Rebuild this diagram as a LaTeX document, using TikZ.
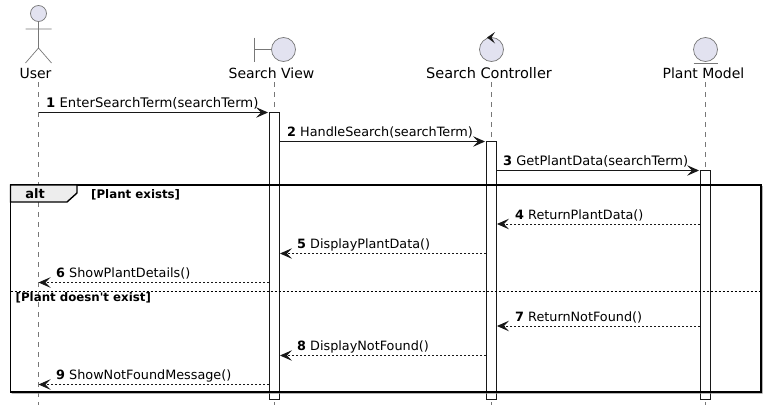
\documentclass[tikz,border=0pt]{standalone}
\usepackage{fontspec}
\setmainfont{DejaVu Sans}
\usetikzlibrary{arrows.meta}
\definecolor{pfill}{HTML}{E2E2F0}
\definecolor{pline}{HTML}{181818}
\definecolor{lgray}{HTML}{777777}
\tikzset{
  x=1pt,y=-1pt,
  lifeline/.style={draw=lgray,line width=.7pt,dash pattern=on 5pt off 5pt},
  icon/.style={draw=lgray,line width=.7pt},
  iconfill/.style={icon,fill=pfill},
  head/.style={font=\fontsize{14}{16}\selectfont,text=black,inner sep=0pt,anchor=center},
  actbox/.style={draw=pline,line width=.9pt,fill=white,minimum width=10pt,inner sep=0pt},
  msg/.style={draw=pline,line width=.9pt,-{Stealth[length=12pt,width=10.5pt,inset=5pt]}},
  ret/.style={msg,dash pattern=on 2pt off 2pt},
  msgtext/.style={font=\fontsize{12.8}{15}\selectfont,inner sep=0pt,anchor=base west},
  guard/.style={font=\fontsize{11.8}{13}\selectfont\bfseries,inner sep=0pt,anchor=base west},
}
\begin{document}
\begin{tikzpicture}
\useasboundingbox (0,0) rectangle (766,415);
% participants
\node[head] (user) at (35.5,73) {User};
\node[head] (view) at (271.5,73) {Search View};
\node[head,font=\fontsize{14.5}{16}\selectfont] (ctrl) at (489,73) {Search Controller};
\node[head] (model) at (703.5,73) {Plant Model};
% lifelines
\coordinate (lu) at (38.5,82); \coordinate (lue) at (38.5,405);
\coordinate (lv) at (274.5,82); \coordinate (lve) at (274.5,405);
\coordinate (lc) at (491.5,82); \coordinate (lce) at (491.5,405);
\coordinate (lm) at (705.5,82); \coordinate (lme) at (705.5,405);
\draw[lifeline] (lu) -- (lue);
\draw[lifeline] (lv) -- (lve);
\draw[lifeline] (lc) -- (lce);
\draw[lifeline] (lm) -- (lme);
% actor
\draw[iconfill] (38.5,13.5) circle (8);
\draw[icon] (38.5,21.5) -- (38.5,48) (25.5,29) -- (51.5,29) (25.5,63) -- (38.5,48) -- (51.5,63);
% boundary
\draw[iconfill] (283.5,49.5) circle (12);
\draw[icon] (254.5,37.5) -- (254.5,61.5) (254.5,49.5) -- (271.5,49.5);
% control
\draw[iconfill] (491.5,49.5) circle (12);
\fill[pline] (487,37.5) -- (495,32) -- (491.5,37.5) -- (495,43.5) -- cycle;
% entity
\draw[iconfill] (705.5,49.5) circle (12);
\draw[icon] (693.5,63) -- (717.5,63);
% activations
\node[actbox,minimum height=287pt] (av) at (274.5,255.5) {};
\node[actbox,minimum height=258pt] (ac) at (491.5,270) {};
\node[actbox,minimum height=229pt] (am) at (705.5,284.5) {};
% frame
\path[fill=black!45] (11.5,391.5) rectangle (762.5,393.5) (760.5,186) rectangle (762.5,393.5);
\draw[line width=1.4pt,draw=black] (10.5,185) rectangle (761,392);
\draw[line width=1.4pt,draw=black,fill=black!7] (10.5,185) -- (77,185) -- (77,193) -- (67,202) -- (10.5,202) -- cycle;
\node[font=\fontsize{13}{15}\selectfont\bfseries,inner sep=0pt] (alt) at (35,194) {alt};
\node[guard] (g1) at (91,198) {[Plant exists]};
\draw[draw=black,line width=.9pt,dash pattern=on 2pt off 2pt] (10.5,291) -- (761,291);
\node[guard] (g2) at (15.5,301) {[Plant doesn\textquotesingle t exist]};
% messages
\coordinate (y1) at (0,112.5); \coordinate (y2) at (0,141.5); \coordinate (y3) at (0,170.5);
\coordinate (y4) at (0,224); \coordinate (y5) at (0,253.5); \coordinate (y6) at (0,282.5);
\coordinate (y7) at (0,326); \coordinate (y8) at (0,355.5); \coordinate (y9) at (0,384.5);
\draw[msg] (lu |- y1) -- ([xshift=-1pt]av.west |- y1);
\node[msgtext,font=\fontsize{13.2}{15}\selectfont] (t1) at (46,107) {\textbf{1} EnterSearchTerm(searchTerm)};
\draw[msg] (av.east |- y2) -- ([xshift=-1pt]ac.west |- y2);
\node[msgtext] (t2) at (287,136) {\textbf{2} HandleSearch(searchTerm)};
\draw[msg] (ac.east |- y3) -- ([xshift=-1pt]am.west |- y3);
\node[msgtext,font=\fontsize{13}{15}\selectfont] (t3) at (503,165) {\textbf{3} GetPlantData(searchTerm)};
\draw[ret] (am.west |- y4) -- (ac.east |- y4);
\node[msgtext] (t4) at (515,219) {\textbf{4} ReturnPlantData()};
\draw[ret] (ac.west |- y5) -- (av.east |- y5);
\node[msgtext] (t5) at (297,248) {\textbf{5} DisplayPlantData()};
\draw[ret] (av.west |- y6) -- (lu |- y6);
\node[msgtext] (t6) at (56,277) {\textbf{6} ShowPlantDetails()};
\draw[ret] (am.west |- y7) -- (ac.east |- y7);
\node[msgtext] (t7) at (515,321) {\textbf{7} ReturnNotFound()};
\draw[ret] (ac.west |- y8) -- (av.east |- y8);
\node[msgtext] (t8) at (297,350) {\textbf{8} DisplayNotFound()};
\draw[ret] (av.west |- y9) -- (lu |- y9);
\node[msgtext] (t9) at (56,379) {\textbf{9} ShowNotFoundMessage()};
\end{tikzpicture}
\end{document}
